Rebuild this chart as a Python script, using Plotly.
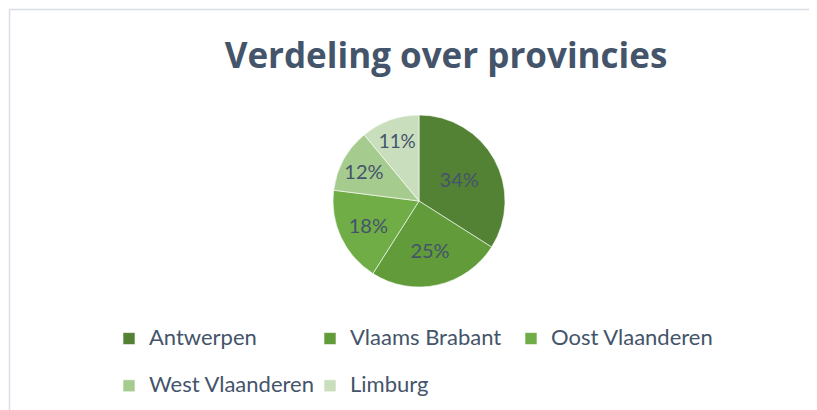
import plotly.graph_objects as go

TITLE_COLOR = "#44546A"
FONT = "Lato, Calibri, 'Open Sans', sans-serif"

provinces = ["Antwerpen", "Vlaams Brabant", "Oost Vlaanderen", "West Vlaanderen", "Limburg"]
shares = [34, 25, 18, 12, 11]
slice_colors = ["#548235", "#619B3A", "#70AD47", "#A6CB8F", "#C9DEBC"]

# page body has an 8px margin, so the figure is 8px smaller than the window
W, H = 809, 402
OFF = 8
ML = 101  # left margin: legend starts at the plot area edge
PW = W - ML


def px(page_x):
    # page pixel -> plot-area fraction
    return (page_x - OFF - ML) / PW


def py(page_y):
    return 1 - (page_y - OFF) / H


# legend text drawn at 22px while rows are spaced for a 17px font with an empty
# second line on the first row, which gives the wide row gap of the original
legend_labels = [
    f"<span style='font-size:22px'>{p}</span>" + ("<br> " if i < 3 else "")
    for i, p in enumerate(provinces)
]

fig = go.Figure()
fig.add_trace(
    go.Pie(
        labels=legend_labels,
        values=shares,
        sort=False,
        direction="clockwise",
        rotation=0,
        marker=dict(colors=slice_colors, line=dict(color="rgba(255,255,255,0.6)", width=1)),
        texttemplate="%{percent:.0%}",
        textposition="inside",
        insidetextorientation="horizontal",
        textfont=dict(family=FONT, size=20, color=TITLE_COLOR),
        customdata=provinces,
        hovertemplate="%{customdata}: %{value}%<extra></extra>",
        domain=dict(x=[px(419 - 86), px(419 + 86)], y=[py(201 + 86), py(201 - 86)]),
    )
)

fig.update_layout(
    width=W,
    height=H,
    margin=dict(l=ML, r=0, t=0, b=0, autoexpand=False),
    paper_bgcolor="white",
    plot_bgcolor="white",
    title=dict(
        text="<b>Verdeling over provincies</b>",
        x=(446 - OFF) / W,
        xanchor="center",
        y=1 - (56 - OFF) / H,
        yanchor="middle",
        font=dict(family="'Open Sans', sans-serif", size=35, color=TITLE_COLOR),
    ),
    showlegend=True,
    legend=dict(
        orientation="h",
        x=0,
        xanchor="left",
        y=py(321),
        yanchor="top",
        entrywidth=156,
        entrywidthmode="pixels",
        itemwidth=30,
        valign="top",
        font=dict(family=FONT, size=17, color=TITLE_COLOR),
        traceorder="normal",
    ),
    shapes=[
        dict(
            type="rect",
            xref="paper",
            yref="paper",
            x0=px(9.5),
            x1=1.05,
            y0=-0.05,
            y1=py(9.5),
            line=dict(color="#D9DEE6", width=1.5),
        )
    ],
)

fig.write_html("out.html")
